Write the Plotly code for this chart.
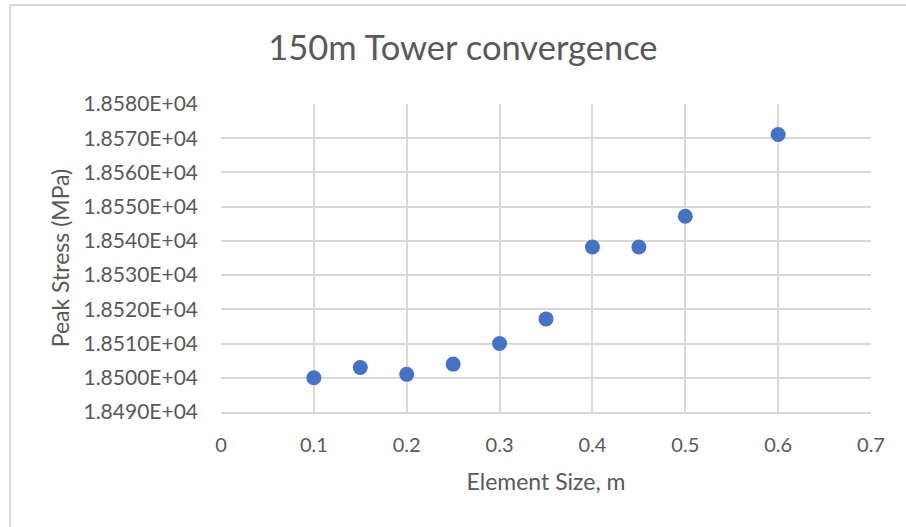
import plotly.graph_objects as go

element_size = [0.1, 0.15, 0.2, 0.25, 0.3, 0.35, 0.4, 0.45, 0.5, 0.6]
peak_stress = [18500.0, 18503.0, 18501.0, 18504.0, 18510.0, 18517.2, 18538.2, 18538.2, 18547.2, 18571.1]

y_ticks = [18490 + 10 * i for i in range(10)]
y_tick_labels = ["{:.4E}".format(v) for v in y_ticks]
x_ticks = [0, 0.1, 0.2, 0.3, 0.4, 0.5, 0.6, 0.7]
x_tick_labels = ["0", "0.1", "0.2", "0.3", "0.4", "0.5", "0.6", "0.7"]

FONT = "Lato, Carlito, Calibri, sans-serif"
TXT = "#595959"
GRID = "#D9D9D9"

fig = go.Figure()
fig.add_trace(go.Scatter(
    x=element_size, y=peak_stress, mode="markers",
    marker=dict(color="#4472C4", size=15, line=dict(width=0)),
    showlegend=False,
))

fig.update_layout(
    width=906, height=527,
    margin=dict(l=221, r=35, t=104, b=115),
    paper_bgcolor="white", plot_bgcolor="white",
    font=dict(family=FONT, color=TXT),
    title=dict(text="150m Tower convergence", x=0.511, xanchor="center",
               y=0.909, yanchor="middle",
               font=dict(family=FONT, size=34.5, color=TXT)),
    xaxis=dict(range=[0, 0.7], tickvals=x_ticks, ticktext=x_tick_labels,
               showgrid=True, gridcolor=GRID, gridwidth=1.5,
               showline=True, linecolor=GRID, linewidth=1.5,
               zeroline=False, ticks="", ticklabelstandoff=14,
               tickfont=dict(size=20, color=TXT),
               title=dict(text="Element Size, m", font=dict(size=23, color=TXT),
                          standoff=19)),
    yaxis=dict(range=[18490, 18580], tickvals=y_ticks, ticktext=y_tick_labels,
               showgrid=True, gridcolor=GRID, gridwidth=1.5,
               showline=False, zeroline=False, ticks="",
               ticklabelstandoff=22,
               tickfont=dict(size=21, color=TXT),
               title=dict(text="Peak Stress (MPa)", font=dict(size=23, color=TXT),
                          standoff=7)),
)

# outer chart frame (top and left edges visible in the reference crop)
fig.add_shape(type="line", xref="paper", yref="paper",
              x0=(10 - 221) / 650, x1=(906 - 221) / 650,
              y0=(527 - 115 - 5) / 308, y1=(527 - 115 - 5) / 308,
              line=dict(color=GRID, width=2))
fig.add_shape(type="line", xref="paper", yref="paper",
              x0=(10 - 221) / 650, x1=(10 - 221) / 650,
              y0=(527 - 115 - 5) / 308, y1=(527 - 115 - 530) / 308,
              line=dict(color=GRID, width=2))

fig.write_html("out.html")
